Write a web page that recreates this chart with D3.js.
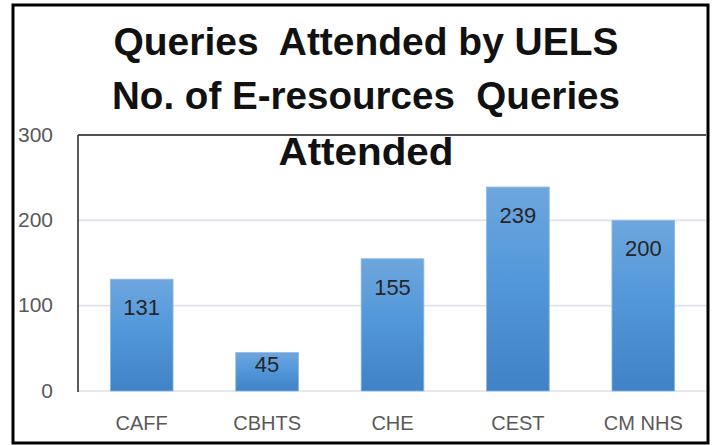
<!DOCTYPE html>
<html>
<head>
<meta charset="utf-8">
<script src="https://cdn.jsdelivr.net/npm/d3@7"></script>
<style>
  html, body { margin: 0; padding: 0; background: #fff; }
  svg { display: block; }
</style>
</head>
<body>
<script>
const categories = ["CAFF", "CBHTS", "CHE", "CEST", "CM NHS"];
const values = [131, 45, 155, 239, 200];
const yTicks = [0, 100, 200, 300];
const titleLines = ["Queries  Attended by UELS", "No. of E-resources  Queries", "Attended"];

const W = 712, H = 445;
const svg = d3.select("body").append("svg").attr("width", W).attr("height", H);

const defs = svg.append("defs");
const grad = defs.append("linearGradient").attr("id", "barGrad")
  .attr("x1", 0).attr("y1", 0).attr("x2", 0).attr("y2", 1);
grad.append("stop").attr("offset", "0%").attr("stop-color", "#6ea6dd");
grad.append("stop").attr("offset", "45%").attr("stop-color", "#5398da");
grad.append("stop").attr("offset", "100%").attr("stop-color", "#3f82c5");

svg.append("rect").attr("width", W).attr("height", H).attr("fill", "#fff");

const plot = { left: 78, right: 706, top: 135, bottom: 391 };

const x = d3.scaleBand().domain(categories)
  .range([plot.left + 1, plot.right]).paddingInner(0.5).paddingOuter(0.25);
const y = d3.scaleLinear().domain([0, 300]).range([plot.bottom, plot.top]);

// gridlines
svg.append("g").selectAll("line").data(yTicks.filter(d => d < 300)).join("line")
  .attr("x1", plot.left).attr("x2", plot.right)
  .attr("y1", d => y(d)).attr("y2", d => y(d))
  .attr("stroke", "#dde2ea").attr("stroke-width", 1.6);

// plot frame (top and left)
svg.append("line").attr("x1", plot.left).attr("x2", plot.right)
  .attr("y1", y(300)).attr("y2", y(300))
  .attr("stroke", "#505050").attr("stroke-width", 2.2);
svg.append("line").attr("x1", plot.left).attr("x2", plot.left)
  .attr("y1", y(300)).attr("y2", y(0) + 1)
  .attr("stroke", "#303030").attr("stroke-width", 1.6);

// bars
const data = categories.map((c, i) => ({ c, v: values[i] }));
svg.append("g").selectAll("rect").data(data).join("rect")
  .attr("x", d => x(d.c)).attr("width", x.bandwidth())
  .attr("y", d => y(d.v)).attr("height", d => y(0) - y(d.v))
  .attr("fill", "url(#barGrad)")
  .attr("stroke", "#8db8e4").attr("stroke-width", 0.8);

// data labels
svg.append("g").selectAll("text").data(data).join("text")
  .attr("x", d => x(d.c) + x.bandwidth() / 2)
  .attr("y", d => Math.min(y(d.v) + 36, y(0) - 19))
  .attr("text-anchor", "middle")
  .attr("font-family", "Liberation Sans, Arial, sans-serif")
  .attr("font-size", 22).attr("fill", "#262626")
  .text(d => d.v);

// y axis labels
const yAxis = d3.axisLeft(y).tickValues(yTicks).tickSize(0).tickPadding(25);
const gy = svg.append("g").attr("transform", `translate(${plot.left},0)`).call(yAxis);
gy.select(".domain").remove();
gy.selectAll("text").attr("font-family", "Liberation Sans, Arial, sans-serif")
  .attr("font-size", 21).attr("fill", "#595959").attr("dy", "0.3em");

// x axis labels
const xAxis = d3.axisBottom(x).tickSize(0).tickPadding(25);
const gx = svg.append("g").attr("transform", `translate(0,${plot.bottom})`).call(xAxis);
gx.select(".domain").remove();
gx.selectAll("text").attr("font-family", "Liberation Sans, Arial, sans-serif")
  .attr("font-size", 20).attr("fill", "#595959");

// title
const titleY = [55, 109, 165];
const titleW = [505, 508, 175];
svg.append("g").selectAll("text").data(titleLines).join("text")
  .attr("x", 366).attr("y", (d, i) => titleY[i])
  .attr("text-anchor", "middle")
  .attr("font-family", "Liberation Sans, Arial, sans-serif")
  .attr("font-weight", "bold").attr("font-size", 38).attr("fill", "#111")
  .attr("textLength", (d, i) => titleW[i]).attr("lengthAdjust", "spacingAndGlyphs")
  .style("white-space", "pre")
  .text(d => d);

// outer frame
svg.append("rect").attr("x", 13).attr("y", 5).attr("width", 695).attr("height", 438)
  .attr("fill", "none").attr("stroke", "#000").attr("stroke-width", 3);
</script>
</body>
</html>
